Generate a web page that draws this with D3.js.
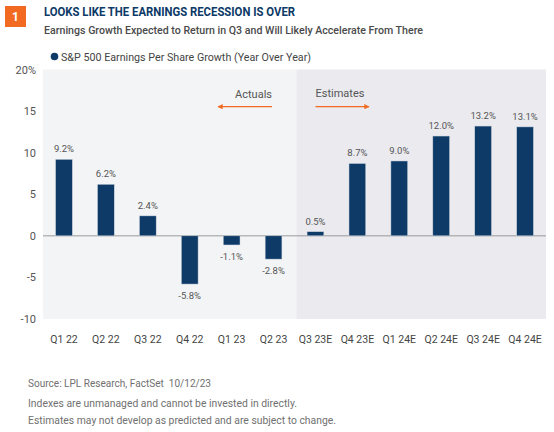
<!DOCTYPE html>
<html>
<head>
<meta charset="utf-8">
<script src="https://d3js.org/d3.v7.min.js"></script>
<style>
  body { margin: 0; background: #fff; }
  svg text { font-family: Roboto, "Noto Sans", sans-serif; white-space: pre; }
</style>
</head>
<body>
<div id="chart"></div>
<script>
// 数据
const quarters = ["Q1 22", "Q2 22", "Q3 22", "Q4 22", "Q1 23", "Q2 23",
                  "Q3 23E", "Q4 23E", "Q1 24E", "Q2 24E", "Q3 24E", "Q4 24E"];
const epsGrowth = [9.2, 6.2, 2.4, -5.8, -1.1, -2.8, 0.5, 8.7, 9.0, 12.0, 13.2, 13.1];
const yTicks = [-10, -5, 0, 5, 10, 15, 20];
const firstEstimate = "Q3 23E";

const W = 554, H = 432;
const plot = {left: 43, right: 546, top: 69.5, bottom: 319};
const navy = "#0d3a67", orange = "#f26a21";

const svg = d3.select("#chart").append("svg")
    .attr("width", W).attr("height", H);

const x = d3.scaleBand().domain(quarters).range([plot.left, plot.right]);
const y = d3.scaleLinear().domain([-10, 20]).range([plot.bottom, plot.top]);
const barW = x.bandwidth() * 0.4;

// 背景：实际值 / 预测值
const splitX = x(firstEstimate) + 2;
svg.append("rect").attr("x", plot.left).attr("y", plot.top)
    .attr("width", splitX - plot.left).attr("height", plot.bottom - plot.top)
    .attr("fill", "#f3f4f6");
svg.append("rect").attr("x", splitX).attr("y", plot.top)
    .attr("width", plot.right - splitX).attr("height", plot.bottom - plot.top)
    .attr("fill", "#eaeaef");

// 标题
svg.append("rect").attr("x", 5).attr("y", 6).attr("width", 21).attr("height", 21)
    .attr("fill", orange);
svg.append("text").attr("x", 15.5).attr("y", 21).attr("text-anchor", "middle")
    .attr("fill", "#fff").attr("font-size", 12).attr("font-weight", 700).text("1");
svg.append("text").attr("x", 44).attr("y", 15.5)
    .attr("fill", navy).attr("font-size", 12.5).attr("font-weight", 700)
    .attr("textLength", 251).attr("lengthAdjust", "spacingAndGlyphs")
    .text("LOOKS LIKE THE EARNINGS RECESSION IS OVER");
svg.append("text").attr("x", 44).attr("y", 34)
    .attr("fill", "#4a4a4a").attr("font-size", 11.5).attr("font-weight", 500)
    .attr("textLength", 379).attr("lengthAdjust", "spacingAndGlyphs")
    .text("Earnings Growth Expected to Return in Q3 and Will Likely Accelerate From There");

// 图例
svg.append("circle").attr("cx", 54.5).attr("cy", 56.5).attr("r", 3.8).attr("fill", navy);
svg.append("text").attr("x", 61).attr("y", 60.5)
    .attr("fill", "#444").attr("font-size", 11)
    .attr("textLength", 250).attr("lengthAdjust", "spacingAndGlyphs")
    .text("S&P 500 Earnings Per Share Growth (Year Over Year)");

// y 轴
const yAxis = svg.append("g")
    .attr("transform", `translate(${plot.left - 4},0)`)
    .call(d3.axisLeft(y).tickValues(yTicks).tickSize(0)
        .tickFormat(d => d === 20 ? "20%" : d));
yAxis.select(".domain").remove();
yAxis.selectAll("text").attr("font-size", 11).attr("fill", "#555").attr("dy", "0.32em");

// 零线
svg.append("line").attr("x1", plot.left).attr("x2", plot.right)
    .attr("y1", y(0)).attr("y2", y(0))
    .attr("stroke", "#9a9a9a").attr("stroke-width", 1);

// x 轴
const xAxis = svg.append("g")
    .attr("transform", `translate(0,${plot.bottom + 14})`)
    .call(d3.axisBottom(x).tickSize(0));
xAxis.select(".domain").remove();
xAxis.selectAll("text").attr("font-size", 10.5).attr("fill", "#444");

// 柱子
svg.selectAll(".bar").data(quarters).enter().append("rect")
    .attr("class", "bar")
    .attr("x", (d, i) => x(d) + (x.bandwidth() - barW) / 2)
    .attr("y", (d, i) => y(Math.max(0, epsGrowth[i])))
    .attr("width", barW)
    .attr("height", (d, i) => Math.abs(y(epsGrowth[i]) - y(0)))
    .attr("fill", navy)
    .attr("stroke", "#cfd6e0").attr("stroke-width", 0.5);

// 数值标签
svg.selectAll(".val").data(quarters).enter().append("text")
    .attr("class", "val")
    .attr("x", d => x(d) + x.bandwidth() / 2)
    .attr("y", (d, i) => epsGrowth[i] >= 0 ? y(epsGrowth[i]) - 7 : y(epsGrowth[i]) + 15)
    .attr("text-anchor", "middle")
    .attr("font-size", 9.5).attr("fill", "#555")
    .text((d, i) => epsGrowth[i].toFixed(1) + "%");

// 箭头注释
const defs = svg.append("defs");
defs.append("marker").attr("id", "arr").attr("viewBox", "0 0 10 10")
    .attr("refX", 9).attr("refY", 5).attr("markerWidth", 4).attr("markerHeight", 4)
    .attr("orient", "auto-start-reverse")
    .append("path").attr("d", "M0,0 L10,5 L0,10 z").attr("fill", orange);

svg.append("text").attr("x", 272).attr("y", 98).attr("text-anchor", "end")
    .attr("font-size", 11).attr("fill", "#555").text("Actuals");
svg.append("line").attr("x1", 272).attr("x2", 218).attr("y1", 106.7).attr("y2", 106.7)
    .attr("stroke", orange).attr("stroke-width", 1.3).attr("marker-end", "url(#arr)");

svg.append("text").attr("x", 315.5).attr("y", 97).attr("text-anchor", "start")
    .attr("font-size", 11).attr("fill", "#555").text("Estimates");
svg.append("line").attr("x1", 315.5).attr("x2", 369).attr("y1", 106.7).attr("y2", 106.7)
    .attr("stroke", orange).attr("stroke-width", 1.3).attr("marker-end", "url(#arr)");

// 脚注
const notes = [
  {t: "Source: LPL Research, FactSet  10/12/23", y: 386.5, w: 183},
  {t: "Indexes are unmanaged and cannot be invested in directly.", y: 407, w: 269},
  {t: "Estimates may not develop as predicted and are subject to change.", y: 423.5, w: 308}
];
svg.selectAll(".note").data(notes).enter().append("text")
    .attr("x", 28).attr("y", d => d.y)
    .attr("font-size", 10.5).attr("fill", "#707070")
    .attr("textLength", d => d.w).attr("lengthAdjust", "spacingAndGlyphs")
    .text(d => d.t);
</script>
</body>
</html>
